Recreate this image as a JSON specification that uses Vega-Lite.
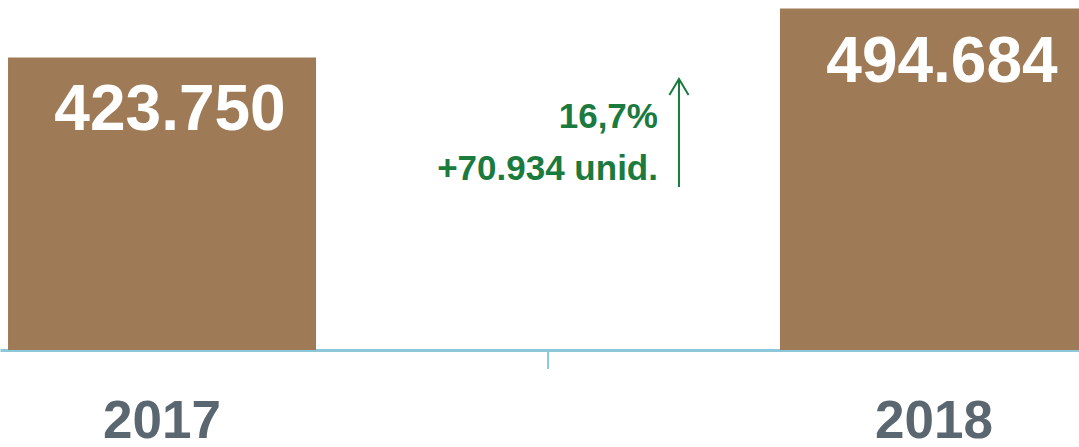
{
  "$schema": "https://vega.github.io/schema/vega-lite/v6.json",
  "width": 1096,
  "height": 350,
  "padding": {"left": 0, "top": 0, "right": 0, "bottom": 97},
  "autosize": {"type": "none"},
  "background": "white",
  "config": {"view": {"stroke": null}},
  "datasets": {
    "bars": [
      {"year": "2017", "units": 423750, "label": "423.750"},
      {"year": "2018", "units": 494684, "label": "494.684"}
    ],
    "note": [
      {"year": "2018", "pct": "16,7%", "pctAt": 321600, "diff": "+70.934 unid.", "diffAt": 246300, "arrowFrom": 236100, "arrowTo": 392600}
    ],
    "divider": [
      {"year": "2017", "top": 0, "bottom": -27500}
    ]
  },
  "layer": [
    {
      "data": {"name": "bars"},
      "mark": {"type": "bar", "color": "#9e7b56"},
      "encoding": {
        "x": {
          "field": "year", "type": "nominal", "sort": null,
          "scale": {"paddingInner": 0.601, "paddingOuter": 0.0104},
          "axis": {
            "title": null, "labelAngle": 0,
            "domainColor": "#8cc8da", "domainWidth": 3,
            "tickColor": "#8cc8da", "tickWidth": 2, "tickSize": 19, "tickOpacity": 0,
            "labelFont": "Liberation Sans", "labelFontWeight": "bold", "labelFontSize": 53,
            "labelColor": "#5b6770", "labelPadding": 26
          }
        },
        "y": {"field": "units", "type": "quantitative", "scale": {"domain": [0, 507000], "nice": false, "zero": true}, "axis": null}
      }
    },
    {
      "data": {"name": "divider"},
      "mark": {"type": "rule", "color": "#8cc8da", "strokeWidth": 2, "xOffset": 232},
      "encoding": {
        "x": {"field": "year", "type": "nominal", "bandPosition": 1},
        "y": {"field": "top", "type": "quantitative"},
        "y2": {"field": "bottom"}
      }
    },
    {
      "data": {"name": "bars"},
      "mark": {"type": "text", "color": "white", "font": "Liberation Sans", "fontWeight": "bold", "fontSize": 64, "baseline": "alphabetic", "dy": 73, "dx": 8},
      "encoding": {
        "x": {"field": "year", "type": "nominal", "sort": null},
        "y": {"field": "units", "type": "quantitative"},
        "text": {"field": "label"}
      }
    },
    {
      "data": {"name": "note"},
      "mark": {"type": "text", "color": "#1b7a3e", "font": "Liberation Sans", "fontWeight": "bold", "fontSize": 35, "baseline": "alphabetic", "align": "right", "dx": -122},
      "encoding": {
        "x": {"field": "year", "type": "nominal", "bandPosition": 0},
        "y": {"field": "pctAt", "type": "quantitative"},
        "text": {"field": "pct"}
      }
    },
    {
      "data": {"name": "note"},
      "mark": {"type": "text", "color": "#1b7a3e", "font": "Liberation Sans", "fontWeight": "bold", "fontSize": 35, "baseline": "alphabetic", "align": "right", "dx": -122},
      "encoding": {
        "x": {"field": "year", "type": "nominal", "bandPosition": 0},
        "y": {"field": "diffAt", "type": "quantitative"},
        "text": {"field": "diff"}
      }
    },
    {
      "data": {"name": "note"},
      "mark": {"type": "rule", "color": "#1b7a3e", "strokeWidth": 2, "xOffset": -101},
      "encoding": {
        "x": {"field": "year", "type": "nominal", "bandPosition": 0},
        "y": {"field": "arrowTo", "type": "quantitative"},
        "y2": {"field": "arrowFrom"}
      }
    },
    {
      "data": {"name": "note"},
      "mark": {"type": "point", "color": "#1b7a3e", "filled": false, "opacity": 1, "strokeWidth": 2, "shape": "M-0.6,1L0,0L0.6,1", "size": 1024, "xOffset": -101},
      "encoding": {
        "x": {"field": "year", "type": "nominal", "bandPosition": 0},
        "y": {"field": "arrowTo", "type": "quantitative"}
      }
    }
  ]
}
